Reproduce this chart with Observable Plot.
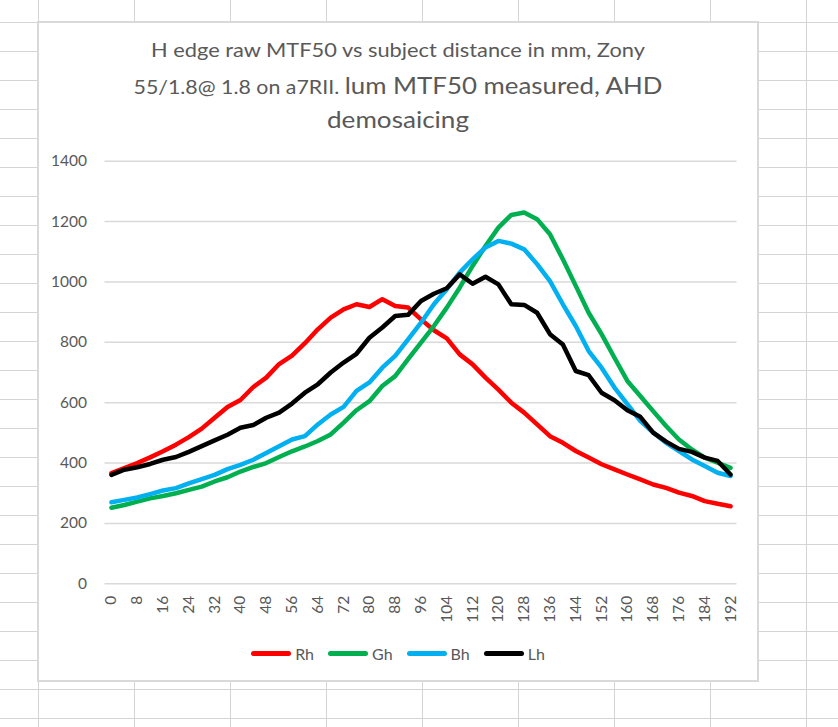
<!DOCTYPE html>
<html>
<head>
<meta charset="utf-8">
<script src="https://cdn.jsdelivr.net/npm/d3@7"></script>
<script src="https://cdn.jsdelivr.net/npm/@observablehq/plot@0.6"></script>
<style>
html, body { margin: 0; padding: 0; }
body {
  width: 838px; height: 727px; position: relative; overflow: hidden;
  background-color: #fff;
  background-image: linear-gradient(to right, #d4d4d4 1px, transparent 1px),
                    linear-gradient(to bottom, #d4d4d4 1px, transparent 1px);
  background-size: 96px 29px;
  background-position: 38px 22px;
  font-family: Lato, "Open Sans", sans-serif;
}
#box { position: absolute; left: 37px; top: 21px; width: 722px; height: 661px;
  box-sizing: border-box; border: 2px solid #d9d9d9; background: #fff; }
#title { position: absolute; left: 38px; top: 22px; }
#plot { position: absolute; left: 38px; top: 150px; }
#legend { position: absolute; left: 38px; top: 642px; width: 720px; height: 22px;
  display: flex; justify-content: center; align-items: center; color: #595959; font-size: 16px; }
.item { display: flex; align-items: center; margin: 0 7px; }
.sw { width: 40px; height: 5px; border-radius: 3px; margin-right: 4px; }
</style>
</head>
<body>
<div id="box"></div>
<svg id="title" width="720" height="120" font-family="Lato, 'Open Sans', sans-serif" fill="#595959">
  <text x="360" y="35" text-anchor="middle" font-size="19" textLength="494" lengthAdjust="spacingAndGlyphs">H edge raw MTF50 vs subject distance in mm, Zony</text>
  <text x="360" y="72" text-anchor="middle" textLength="529" lengthAdjust="spacingAndGlyphs"><tspan font-size="19">55/1.8@ 1.8 on a7RII. </tspan><tspan font-size="23">lum MTF50 measured, AHD</tspan></text>
  <text x="360" y="106" text-anchor="middle" font-size="23" textLength="142" lengthAdjust="spacingAndGlyphs">demosaicing</text>
</svg>
<div id="plot"></div>
<div id="legend"></div>
<script>
const distance = [0,4,8,12,16,20,24,28,32,36,40,44,48,52,56,60,64,68,72,76,80,84,88,92,96,100,104,108,112,116,120,124,128,132,136,140,144,148,152,156,160,164,168,172,176,180,184,188,192];
const xTicks = [0,8,16,24,32,40,48,56,64,72,80,88,96,104,112,120,128,136,144,152,160,168,176,184,192];
const yTicks = [0,200,400,600,800,1000,1200,1400];

const rh = [367,383,400,419,439,461,486,514,550,586,609,652,683,728,756,797,843,882,909,926,917,943,920,915,876,840,813,760,727,683,643,600,567,528,489,467,440,418,396,379,362,346,329,318,302,291,274,265,257];
const gh = [252,261,272,283,291,300,311,322,339,353,372,387,400,420,439,455,473,495,534,575,605,655,688,744,799,854,915,981,1053,1119,1180,1222,1230,1208,1158,1075,987,898,827,749,672,622,572,523,478,445,418,401,384];
const bh = [270,278,286,297,309,317,333,347,361,380,394,411,433,456,478,489,528,561,586,639,667,716,755,810,865,926,976,1031,1075,1114,1136,1127,1108,1059,1003,926,854,771,716,650,595,540,501,467,440,412,390,368,357];
const lh = [361,378,386,397,411,420,437,456,475,494,517,526,550,567,597,633,661,700,733,762,815,849,887,891,937,961,979,1025,994,1017,992,926,924,898,827,793,705,691,633,608,575,553,501,471,447,437,418,407,362];

const seriesNames = ["Rh", "Gh", "Bh", "Lh"];
const seriesColors = ["#FF0000", "#00B050", "#00B0F0", "#000000"];
const seriesValues = [rh, gh, bh, lh];

const lineMarks = seriesValues.map((vals, i) =>
  Plot.lineY(distance.map((d, j) => ({mm: d, v: vals[j]})), {
    x: "mm", y: "v", stroke: seriesColors[i], strokeWidth: 4.5,
    strokeLinejoin: "round", strokeLinecap: "round"
  })
);

const chart = Plot.plot({
  width: 720, height: 490,
  marginLeft: 66.5, marginRight: 21.5, marginTop: 10.7, marginBottom: 56.7,
  style: {fontFamily: "Lato, 'Open Sans', sans-serif", fontSize: "15.5px", color: "#595959", background: "transparent"},
  x: {domain: [-2, 194]},
  y: {domain: [0, 1400]},
  marks: [
    Plot.gridY(yTicks, {stroke: "#d9d9d9", strokeOpacity: 1, strokeWidth: 1.5}),
    Plot.axisY(yTicks, {tickSize: 0, tickPadding: 18, label: null, fill: "#595959", tickFormat: d => String(d)}),
    Plot.axisX(xTicks, {tickSize: 0, tickPadding: 12, tickRotate: -90, label: null, fill: "#595959", tickFormat: d => String(d)}),
    ...lineMarks
  ]
});
document.getElementById("plot").appendChild(chart);

const legend = document.getElementById("legend");
seriesNames.forEach((name, i) => {
  const item = document.createElement("div");
  item.className = "item";
  const sw = document.createElement("div");
  sw.className = "sw";
  sw.style.background = seriesColors[i];
  const lab = document.createElement("span");
  lab.textContent = name;
  item.appendChild(sw); item.appendChild(lab);
  legend.appendChild(item);
});
</script>
</body>
</html>
